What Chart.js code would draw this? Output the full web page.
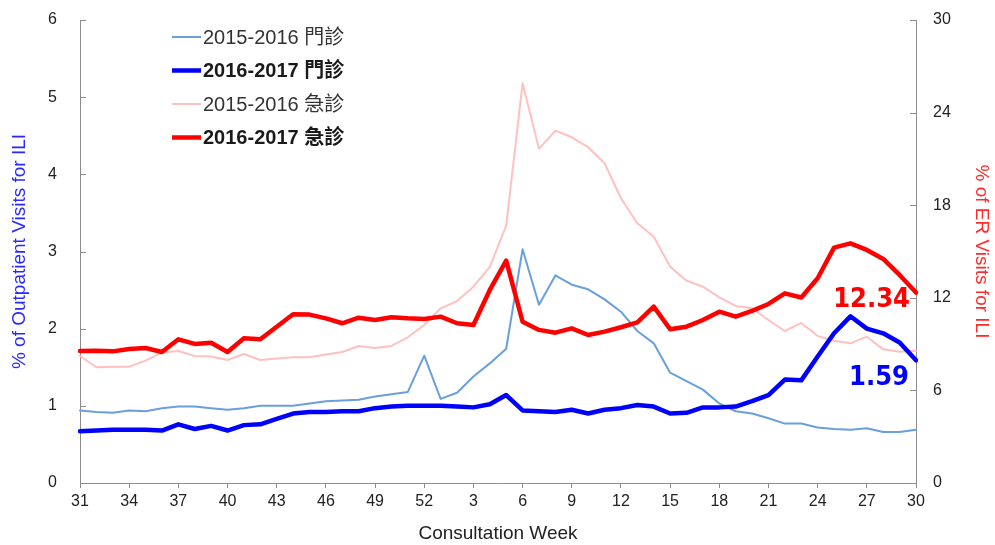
<!DOCTYPE html>
<html><head><meta charset="utf-8">
<script src="https://cdn.jsdelivr.net/npm/chart.js@4/dist/chart.umd.min.js"></script>
<style>html,body{margin:0;padding:0;background:#fff;}</style>
</head><body>
<canvas id="c" width="995" height="545"></canvas>
<script>
const weeks = ['31','32','33','34','35','36','37','38','39','40','41','42','43','44','45','46','47','48','49','50','51','52',
  '1','2','3','4','5','6','7','8','9','10','11','12','13','14','15','16','17','18','19','20','21','22','23','24','25','26','27','28','29','30'];

const opd1516 = [0.94,0.92,0.91,0.94,0.93,0.97,0.99,0.99,0.97,0.95,
  0.97,1.0,1.0,1.0,1.03,1.06,1.07,1.08,1.12,1.15,
  1.18,1.65,1.09,1.17,1.38,1.55,1.74,3.03,2.31,2.69,
  2.57,2.51,2.38,2.22,1.97,1.81,1.43,1.32,1.21,1.03,
  0.93,0.90,0.84,0.77,0.77,0.72,0.70,0.69,0.71,0.66,0.66,0.69];
const opd1617 = [0.67,0.68,0.69,0.69,0.69,0.68,0.76,0.70,0.74,0.68,
  0.75,0.76,0.83,0.90,0.92,0.92,0.93,0.93,0.97,0.99,
  1.0,1.0,1.0,0.99,0.98,1.02,1.14,0.94,0.93,0.92,
  0.95,0.90,0.95,0.97,1.01,0.99,0.90,0.91,0.98,0.98,
  0.99,1.06,1.14,1.34,1.33,1.64,1.94,2.16,2.0,1.94,1.82,1.59];
const er1516 = [8.23,7.50,7.54,7.54,7.93,8.45,8.55,8.23,8.19,7.97,
  8.36,7.97,8.06,8.15,8.15,8.32,8.49,8.88,8.75,8.88,
  9.44,10.24,11.32,11.79,12.72,14.0,16.68,25.9,21.65,22.83,
  22.4,21.76,20.72,18.45,16.83,15.96,14.02,13.11,12.72,12.03,
  11.47,11.32,10.56,9.85,10.37,9.53,9.22,9.05,9.48,8.66,8.51,8.57];
const er1617 = [8.55,8.57,8.53,8.68,8.75,8.49,9.31,9.01,9.09,8.49,
  9.38,9.31,10.13,10.93,10.91,10.67,10.35,10.71,10.56,10.74,
  10.67,10.63,10.78,10.35,10.24,12.51,14.41,10.45,9.92,9.74,
  10.02,9.59,9.81,10.09,10.41,11.43,9.96,10.13,10.56,11.10,
  10.78,11.15,11.6,12.29,12.02,13.27,15.25,15.53,15.1,14.52,13.48,12.34];

const seriesLabels = ['2015-2016 門診','2016-2017 門診','2015-2016 急診','2016-2017 急診'];
const leftTicks = [0,1,2,3,4,5,6];
const rightTicks = [0,6,12,18,24,30];
const xTitle = 'Consultation Week';
const yLeftTitle = '% of Outpatient Visits for ILI';
const yRightTitle = '% of ER Visits for ILI';

const AXIS = '#8c8c8c';
const TICKFONT = {family:"'Liberation Sans', Arial, sans-serif", size:16};
const TITLEFONT = {family:"'Liberation Sans', Arial, sans-serif", size:19};

const legendPlugin = {
  id:'customLegend',
  afterDraw(chart){
    const ctx = chart.ctx;
    const rows = [37,70.5,104,137.5];
    chart.data.datasets.forEach((ds,i)=>{
      const y = rows[i];
      ctx.save();
      ctx.strokeStyle = ds.borderColor;
      ctx.lineWidth = ds.borderWidth;
      ctx.beginPath(); ctx.moveTo(172,y); ctx.lineTo(201,y); ctx.stroke();
      ctx.fillStyle = ds.bold ? '#1a1a1a' : '#333';
      ctx.font = (ds.bold?'bold ':'') + "20px 'Liberation Sans','Noto Sans CJK TC',sans-serif";
      ctx.textBaseline = 'middle';
      ctx.textAlign = 'left';
      ctx.fillText(ds.label, 203, y+1);
      ctx.restore();
    });
  }
};

const innerTicksPlugin = {
  id:'innerTicks',
  afterDraw(chart){
    const ctx = chart.ctx;
    ctx.save();
    ctx.strokeStyle = AXIS; ctx.lineWidth = 1;
    const yl = chart.scales.y, yr = chart.scales.y1;
    leftTicks.forEach(v=>{ const p = Math.round(yl.getPixelForValue(v))+0.5; ctx.beginPath(); ctx.moveTo(yl.right,p); ctx.lineTo(yl.right+6,p); ctx.stroke(); });
    rightTicks.forEach(v=>{ const p = Math.round(yr.getPixelForValue(v))+0.5; ctx.beginPath(); ctx.moveTo(yr.left-6,p); ctx.lineTo(yr.left,p); ctx.stroke(); });
    ctx.restore();
  }
};

const endLabelPlugin = {
  id:'endLabels',
  afterDatasetsDraw(chart){
    const ctx = chart.ctx;
    ctx.save();
    ctx.font = "bold 27px 'DejaVu Sans Condensed','DejaVu Sans',sans-serif";
    ctx.textAlign = 'right'; ctx.textBaseline = 'middle';
    const mR = chart.getDatasetMeta(3), mB = chart.getDatasetMeta(1);
    const pR = mR.data[mR.data.length-1], pB = mB.data[mB.data.length-1];
    ctx.fillStyle = '#ff0000';
    ctx.fillText(er1617[er1617.length-1].toFixed(2), pR.x-6, pR.y+7);
    ctx.fillStyle = '#0000ff';
    ctx.fillText(opd1617[opd1617.length-1].toFixed(2), pB.x-7, pB.y+18);
    ctx.restore();
  }
};

new Chart(document.getElementById('c'), {
  type:'line',
  data:{
    labels: weeks,
    datasets:[
      {label:seriesLabels[0], data:opd1516, yAxisID:'y', borderColor:'#6a9fdc', borderWidth:2, bold:false, order:2},
      {label:seriesLabels[1], data:opd1617, yAxisID:'y', borderColor:'#0000ff', borderWidth:4.5, bold:true, order:1},
      {label:seriesLabels[2], data:er1516, yAxisID:'y1', borderColor:'#ffc0c0', borderWidth:2, bold:false, order:3},
      {label:seriesLabels[3], data:er1617, yAxisID:'y1', borderColor:'#ff0000', borderWidth:4.5, bold:true, order:0}
    ]
  },
  options:{
    responsive:false,
    animation:false,
    layout:{padding:{top:20,left:0,right:0,bottom:0}},
    elements:{point:{radius:0}, line:{tension:0, borderJoinStyle:'round', borderCapStyle:'round'}},
    plugins:{legend:{display:false}, tooltip:{enabled:false}},
    scales:{
      x:{
        type:'category',
        offset:false,
        afterFit(s){ s.height = 62; },
        grid:{drawOnChartArea:false, drawTicks:true, tickLength:5, color:AXIS},
        border:{color:AXIS, width:1},
        ticks:{autoSkip:false, maxRotation:0, padding:4, color:'#222', font:TICKFONT,
          callback(v,i){ return i%3===0 ? weeks[i] : null; }},
        title:{display:true, text:xTitle, color:'#222', font:TITLEFONT, padding:{top:4,bottom:0}}
      },
      y:{
        position:'left', min:0, max:6,
        afterFit(s){ s.width = 80; },
        afterBuildTicks(s){ s.ticks = leftTicks.map(v=>({value:v})); },
        grid:{drawOnChartArea:false, drawTicks:true, tickLength:20, tickColor:'rgba(0,0,0,0)'},
        border:{color:AXIS, width:1},
        ticks:{padding:3, color:'#222', font:TICKFONT},
        title:{display:true, text:yLeftTitle, color:'#2828ff', font:TITLEFONT, padding:{top:8,bottom:4}}
      },
      y1:{
        position:'right', min:0, max:30,
        afterFit(s){ s.width = 79; },
        afterBuildTicks(s){ s.ticks = rightTicks.map(v=>({value:v})); },
        grid:{drawOnChartArea:false, drawTicks:true, tickLength:14, tickColor:'rgba(0,0,0,0)'},
        border:{color:AXIS, width:1},
        ticks:{padding:3, color:'#222', font:TICKFONT},
        title:{display:true, text:yRightTitle, color:'#ff2a2a', font:TITLEFONT, padding:{top:2,bottom:4}}
      }
    }
  },
  plugins:[legendPlugin, innerTicksPlugin, endLabelPlugin]
});
</script>
</body></html>
